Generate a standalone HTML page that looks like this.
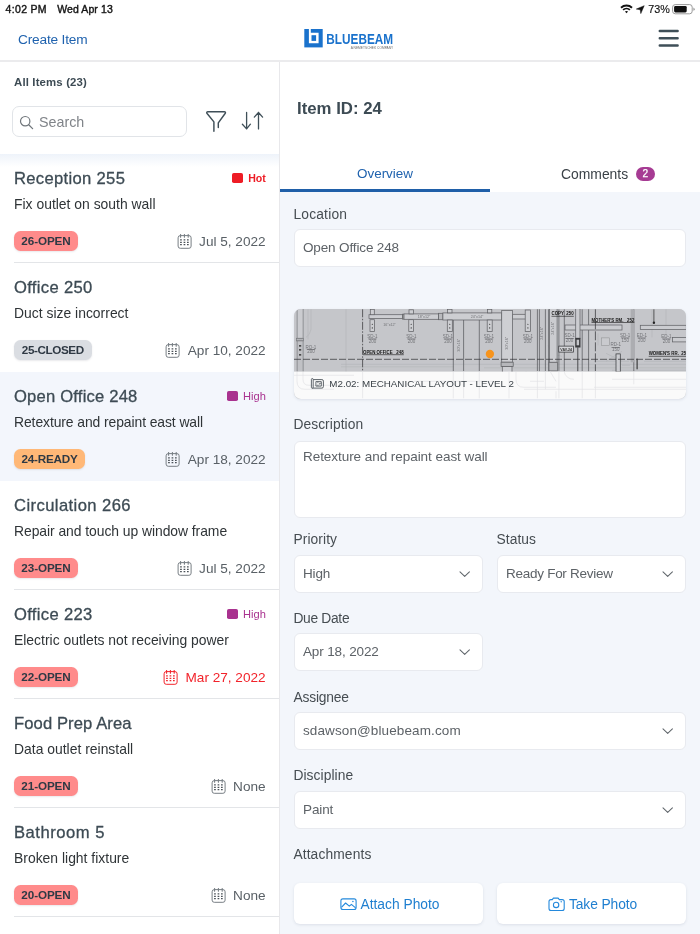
<!DOCTYPE html>
<html lang="en">
<head>
<meta charset="utf-8">
<title>Bluebeam Punch Items</title>
<style>
*{box-sizing:border-box;margin:0;padding:0}
html,body{width:700px;height:934px;overflow:hidden;background:#fff}
body{font-family:"Liberation Sans",sans-serif;color:#3b474f;position:relative;-webkit-font-smoothing:antialiased}
.abs{position:absolute;white-space:nowrap}
#app{position:absolute;left:0;top:0;width:700px;height:934px;overflow:hidden;background:#fff;will-change:transform}

/* status bar */
.sb{font-size:10.5px;color:#151515;line-height:12px;top:2.6px;-webkit-text-stroke:.4px #151515}

/* header */
#hdr{position:absolute;left:0;top:0;width:700px;height:62px;border-bottom:2px solid #ebebed;background:#fff}
.create{left:18px;top:31px;font-size:13.7px;line-height:17px;color:#1f62ae;letter-spacing:-.19px}

/* left panel */
#left{position:absolute;left:0;top:62px;width:280px;height:872px;border-right:1.5px solid #e8e8eb;background:#fff}
.allitems{left:14px;top:75.4px;font-size:11.4px;font-weight:bold;color:#3d4b54;line-height:14px;letter-spacing:.15px}
.search{left:12px;top:106px;width:175px;height:31px;border:1px solid #e1e4e8;border-radius:7px;background:#fff}
.search span{position:absolute;left:26px;top:5.5px;font-size:14.3px;line-height:18px;color:#808489}
#list{position:absolute;left:0;top:154px;width:279px;height:780px}
.shadowtop{position:absolute;left:0;top:154px;width:278.5px;height:13px;background:linear-gradient(#eef3fa,#fff)}
.it{position:absolute;left:0;width:279px;height:109px}
.it.sel{background:#f3f6fc}
.it .t{position:absolute;left:14px;top:14px;font-size:16.6px;line-height:22px;color:#3d4b54;white-space:nowrap;-webkit-text-stroke:.3px #3d4b54;letter-spacing:.32px}
.it .s{position:absolute;left:14px;top:40.5px;font-size:13.9px;line-height:18px;color:#2f3437;white-space:nowrap;letter-spacing:.01px}
.it .b{position:absolute;left:14px;top:76.6px;height:20.4px;width:64px;text-align:center;border-radius:6.5px;font-size:11.7px;font-weight:bold;line-height:20.4px;color:#2f3944;box-shadow:0 1px 2px rgba(40,40,60,.10);background:#ff8b8b;white-space:nowrap;letter-spacing:-.1px}
.it .b.closed{background:#dadde2;color:#2f3944;width:77.6px;letter-spacing:-.4px}
.it .b.ready{background:#ffb877;color:#2f3944;width:71px;letter-spacing:-.2px}
.it .d{position:absolute;right:13.4px;top:78.8px;font-size:13.6px;line-height:18px;color:#596066;white-space:nowrap}
.it .d.red{color:#f2232b}
.it .d svg{position:absolute;left:-22.3px;top:1.2px;color:#777e84}.it .d.red svg{color:#f2232b;--dot:#f2232b}
.it .p{position:absolute;right:13.2px;top:17px;font-size:11.1px;line-height:14px;white-space:nowrap}
.it .p i{position:absolute;left:-15.8px;top:1.7px;width:10.8px;height:10.8px;border-radius:1.8px}
.it .p.hot{color:#ee1c25;font-weight:bold;font-size:10.6px}.it .p.hot i{background:#ee1c25}
.it .p.high{color:#a9328f}.it .p.high i{background:#a9328f}
.it .ln{position:absolute;left:14px;right:0;bottom:0;height:1px;background:#e3e5e8}

/* right panel */
#right{position:absolute;left:280px;top:62px;width:420px;height:872px;background:#fff}
#form{position:absolute;left:280px;top:192px;width:420px;height:742px;background:#f3f6fb}
.itemid{left:297px;top:98px;font-size:16.8px;font-weight:bold;line-height:22px;color:#3d4b54}
.tab{font-size:14.5px;line-height:18px;top:165px}
.lbl{font-size:13.8px;line-height:18px;color:#464d52;left:293.4px}
.inp{position:absolute;background:#fff;border:1px solid #e8eaef;border-radius:6px;height:38px;font-size:13.5px;letter-spacing:-.05px;line-height:36px;padding-left:8px;color:#5d6267;white-space:nowrap}
.chev{position:absolute;right:11px;top:14px}
.btn{position:absolute;top:883px;width:189px;height:41px;background:#fff;border-radius:6px;box-shadow:0 1px 3px rgba(60,80,110,.13);font-size:13.8px;line-height:41px;color:#1f7fd0;white-space:nowrap}
</style>
</head>
<body>
<div id="app">

<!-- HEADER -->
<div id="hdr"></div>
<div class="abs sb" style="left:5.6px;letter-spacing:.32px">4:02 PM</div>
<div class="abs sb" style="left:57.2px;letter-spacing:.1px">Wed Apr 13</div>
<div class="abs sb" style="left:648.3px;font-size:10.8px;-webkit-text-stroke:.15px #151515">73%</div>
<div class="abs create">Create Item</div>
<!-- wifi -->
<svg class="abs" style="left:620px;top:4px" width="13" height="10" viewBox="0 0 13 10">
 <path d="M1 3.7 A7.9 7.9 0 0 1 12 3.7" fill="none" stroke="#111" stroke-width="1.9" stroke-linecap="butt"/>
 <path d="M3.1 5.9 A4.9 4.9 0 0 1 9.9 5.9" fill="none" stroke="#111" stroke-width="1.75"/>
 <path d="M4.9 7.6 A2.4 2.4 0 0 1 8.1 7.6 L6.5 9.3 Z" fill="#111"/>
</svg>
<!-- location arrow -->
<svg class="abs" style="left:636px;top:5px" width="9" height="9" viewBox="0 0 9 9"><path d="M8.2 0.7 L0.3 4.1 L4.2 4.7 L4.8 8.6 Z" fill="#111" stroke="#111" stroke-width=".5" stroke-linejoin="round"/></svg>
<!-- battery -->
<svg class="abs" style="left:672px;top:4px" width="24" height="11" viewBox="0 0 24 11">
 <rect x="0.6" y="0.6" width="19.6" height="9.2" rx="2.6" fill="none" stroke="#9a9a9a" stroke-width="1"/>
 <rect x="2.1" y="2" width="12.6" height="6.4" rx="1.3" fill="#111"/>
 <path d="M21.4 3.6 Q22.7 4.2 22.7 5.2 Q22.7 6.2 21.4 6.8 Z" fill="#9a9a9a"/>
</svg>
<!-- hamburger -->
<svg class="abs" style="left:657px;top:29px" width="24" height="19" viewBox="0 0 24 19"><path d="M2.8 2h17.8M2.8 9.3h17.8M2.8 16.6h17.8" stroke="#3f4f58" stroke-width="2.5" stroke-linecap="round"/></svg>
<!-- logo -->
<svg class="abs" style="left:300px;top:24px" width="100" height="30" viewBox="0 0 100 30">
 <rect x="4.3" y="5" width="18.4" height="18.4" fill="#1a72cc"/>
 <path d="M8.9 5 H10.8 V8.7 H18.6 V19.3 H8.9 Z" fill="#fff"/>
 <rect x="11.5" y="11.2" width="4.6" height="5.7" fill="#1a72cc"/>
 <text x="26.3" y="19.7" font-family="Liberation Sans, sans-serif" font-weight="bold" font-size="14.8" fill="#1a72cc" textLength="66.8" lengthAdjust="spacingAndGlyphs">BLUEBEAM</text>
 <text x="50.7" y="25.3" font-family="Liberation Sans, sans-serif" font-size="2.9" fill="#6c6c6c" textLength="42.6" lengthAdjust="spacingAndGlyphs">A NEMETSCHEK COMPANY</text>
</svg>

<!-- LEFT -->
<div id="left"></div>
<div class="abs allitems">All Items (23)</div>
<div class="abs search"><span>Search</span>
 <svg style="position:absolute;left:6px;top:8px" width="16" height="16" viewBox="0 0 16 16"><circle cx="6.2" cy="6.2" r="4.7" fill="none" stroke="#70767b" stroke-width="1.2"/><path d="M9.7 9.7L13.6 13.6" stroke="#70767b" stroke-width="1.3" stroke-linecap="round"/></svg>
</div>
<!-- filter -->
<svg class="abs" style="left:204px;top:109px" width="26" height="26" viewBox="0 0 26 26"><path d="M9.9 22.2V12.9L3.1 4.5Q2 2.8 4 2.8H20.2Q22.2 2.8 21.1 4.5L14.3 13.9V18.6" fill="none" stroke="#3f4f58" stroke-width="1.45" stroke-linecap="round" stroke-linejoin="round"/></svg>
<!-- sort -->
<svg class="abs" style="left:240px;top:109px" width="26" height="26" viewBox="0 0 26 26"><path d="M6.6 3.5V19.9M2.4 15.2L6.6 19.9L10.4 15.2M18.5 19.9V3.5M14.3 8.1L18.5 3.5L22.6 8.1" fill="none" stroke="#3f4f58" stroke-width="1.3" stroke-linecap="round" stroke-linejoin="round"/></svg>
<div class="shadowtop"></div>
<svg width="0" height="0" style="position:absolute"><defs>
<g id="cal" fill="none" stroke="currentColor" stroke-width="1">
<rect x="1.1" y="1.6" width="13" height="12.7" rx="2.2"/>
<path d="M3.6 0.5v2.7M7.4 0.5v2.7M11.2 0.5v2.7" stroke-width="1.1" stroke-linecap="round"/>
<path d="M3.1 5.9h1.7M6.6 5.9h1.7M10 5.9h1.7M3.1 8.4h1.7M6.6 8.4h1.7M10 8.4h1.7M3.1 10.6h1.7M6.6 10.6h1.7M10 10.6h1.7" stroke-width="1.2" style="stroke:var(--dot,#4a5157)"/>
</g>
</defs></svg>
<div id="list">
 <div class="it" style="top:0">
  <div class="t">Reception 255</div><div class="p hot"><i></i>Hot</div>
  <div class="s">Fix outlet on south wall</div>
  <div class="b">26-OPEN</div>
  <div class="d"><svg width="16" height="16"><use href="#cal"/></svg>Jul 5, 2022</div>
  <div class="ln"></div>
 </div>
 <div class="it" style="top:109px">
  <div class="t">Office 250</div>
  <div class="s">Duct size incorrect</div>
  <div class="b closed">25-CLOSED</div>
  <div class="d"><svg width="16" height="16"><use href="#cal"/></svg>Apr 10, 2022</div>
 </div>
 <div class="it sel" style="top:218px">
  <div class="t" style="letter-spacing:.2px">Open Office 248</div><div class="p high"><i></i>High</div>
  <div class="s" style="letter-spacing:-.08px">Retexture and repaint east wall</div>
  <div class="b ready">24-READY</div>
  <div class="d"><svg width="16" height="16"><use href="#cal"/></svg>Apr 18, 2022</div>
 </div>
 <div class="it" style="top:327px">
  <div class="t" style="letter-spacing:.42px">Circulation 266</div>
  <div class="s" style="letter-spacing:-.05px">Repair and touch up window frame</div>
  <div class="b">23-OPEN</div>
  <div class="d"><svg width="16" height="16"><use href="#cal"/></svg>Jul 5, 2022</div>
  <div class="ln"></div>
 </div>
 <div class="it" style="top:436px">
  <div class="t">Office 223</div><div class="p high"><i></i>High</div>
  <div class="s">Electric outlets not receiving power</div>
  <div class="b">22-OPEN</div>
  <div class="d red"><svg width="16" height="16"><use href="#cal"/></svg>Mar 27, 2022</div>
  <div class="ln"></div>
 </div>
 <div class="it" style="top:545px">
  <div class="t" style="letter-spacing:.1px">Food Prep Area</div>
  <div class="s">Data outlet reinstall</div>
  <div class="b">21-OPEN</div>
  <div class="d"><svg width="16" height="16"><use href="#cal"/></svg>None</div>
  <div class="ln"></div>
 </div>
 <div class="it" style="top:654px">
  <div class="t" style="letter-spacing:.52px">Bathroom 5</div>
  <div class="s">Broken light fixture</div>
  <div class="b">20-OPEN</div>
  <div class="d"><svg width="16" height="16"><use href="#cal"/></svg>None</div>
  <div class="ln"></div>
 </div>
</div>

<!-- RIGHT -->
<div id="right"></div>
<div id="form"></div>
<div class="abs itemid">Item ID: 24</div>

<!-- tabs -->
<div class="abs tab" style="left:357px;color:#1f62ae;font-size:13.45px">Overview</div>
<div class="abs tab" style="left:561px;color:#3b4248;font-size:13.9px">Comments</div>
<div class="abs" style="left:635.7px;top:166.8px;width:19.3px;height:14.6px;border-radius:7.3px;background:#a63b93;color:#fff;font-size:10.2px;line-height:14.8px;text-align:center;-webkit-text-stroke:.25px #fff">2</div>
<div class="abs" style="left:280px;top:189px;width:210px;height:3px;background:#1f5fa8"></div>

<!-- form -->
<div class="abs lbl" style="top:206px;letter-spacing:0.2px">Location</div>
<div class="inp" style="left:294px;top:229px;width:392px;letter-spacing:-.14px">Open Office 248</div>

<div id="plan" class="abs" style="left:294px;top:309px;width:392px;height:89.5px;border-radius:7px;overflow:hidden;background:#d3d4d6;box-shadow:0 1px 3px rgba(60,80,110,.13)">
<svg class="abs" style="left:0;top:0" width="392" height="90" viewBox="0 -0.3 392 90" font-family="Liberation Sans, sans-serif">
 <rect y="-1" width="392" height="91" fill="#c5c6ca"/>
 <!-- light background linework -->
 <g stroke="#b2b3b7" stroke-width=".6" fill="none">
  <path d="M47 55H392M47 57.5H160M190 58.5H392M0 66H392M0 74H200M230 80H392M14 0V30M17 0V20Q16 26 12 28M52 0V89M318 61H392M300 78H392"/>
  <path d="M22 62V72Q22 82 32 82H60M215 62V89M222 62V89M232 62V70Q232 78 240 78H262M250 62V89M270 62V76M358 0V28M372 0V28M328 56H336M300 52H335M350 52H392"/>
  <path d="M254 36Q258 46 268 47M312 44L328 52M312 52L328 42M304 24V36"/>
 </g>
 <!-- left vertical riser -->
 <g stroke="#77787c" stroke-width=".7" fill="#cbccd0">
  <rect x="3.1" y="-1" width="6" height="30"/>
  <rect x="2.6" y="29" width="7" height="2.6" fill="#b4b5b9"/>
  <rect x="3.1" y="31.6" width="6" height="60" fill="#c0c1c5"/>
 </g>
 <path d="M5 36.5h2.2M5 40.5h2.2M5 45.5h2.2" stroke="#222" stroke-width="1.2"/>
 <!-- main horizontal supply duct, left run -->
 <g stroke="#626367" stroke-width=".75" fill="#cdced2">
  <rect x="75" y="5.4" width="33.5" height="3.9"/>
  <rect x="108.5" y="4.9" width="1.6" height="4.9" fill="#bbb"/>
  <rect x="110" y="4.6" width="34.6" height="5.4"/>
  <rect x="144.6" y="4" width="4.3" height="6.4" fill="#b9babe"/>
  <rect x="148.9" y="3.6" width="58.8" height="7.1"/>
  <rect x="218.6" y="5" width="14" height="4.7"/>
  <!-- big vertical 30x16 duct -->
  <rect x="207.7" y="1.1" width="10.9" height="51.8" fill="#cecfd3"/>
  <rect x="207.1" y="52.9" width="12.1" height="4.4" fill="#b6b7bb"/>
  <rect x="208.3" y="57.3" width="9.7" height="34" fill="#cdced2"/>
  <!-- diffuser stubs -->
  <rect x="76" y="10.4" width="4.6" height="11.7"/>
  <rect x="114.8" y="10.4" width="4.8" height="11.7"/>
  <rect x="153.3" y="10.7" width="5" height="11.4"/>
  <rect x="193.2" y="10.7" width="5" height="11.4"/>
  <rect x="231.2" y="0.7" width="5.4" height="21.4"/>
  <!-- small top connectors -->
  <rect x="76.3" y="0" width="4" height="5.4"/>
  <rect x="115" y="0.5" width="4.4" height="4.1"/>
  <rect x="153.6" y="0" width="4.4" height="3.6"/>
  <rect x="193.4" y="0" width="4.4" height="3.6"/>
 </g>
 <!-- dots inside diffusers -->
 <g fill="#222">
  <circle cx="78.3" cy="15" r=".55"/><circle cx="78.3" cy="18.6" r=".55"/>
  <circle cx="117.2" cy="15" r=".55"/><circle cx="117.2" cy="18.6" r=".55"/>
  <circle cx="155.8" cy="15" r=".55"/><circle cx="155.8" cy="18.6" r=".55"/>
  <circle cx="195.7" cy="15" r=".55"/><circle cx="195.7" cy="18.6" r=".55"/>
  <circle cx="233.9" cy="15" r=".55"/><circle cx="233.9" cy="18.6" r=".55"/>
 </g>
 <!-- vertical structural / duct lines -->
 <g stroke="#5a5b5f" stroke-width=".75" fill="none">
  <path d="M159.3 10.7V62M169.6 10.7V62M185.3 10.7V62"/>
  <path d="M243.4 0V62M245.4 0V62M251.4 0V62M254.6 0V62M264.9 0V62M270.3 0V62M288.2 0V62M294.6 0V62M339.8 0V62"/>
 </g>
 
 <!-- 24x16 vertical duct -->
 <g stroke="#626367" stroke-width=".75" fill="#cbccd0">
  <rect x="255.4" y="-1" width="7.7" height="54"/>
  <rect x="255" y="53" width="8.5" height="8.6" fill="#b9babe"/>
  <!-- copy room cross duct -->
  <rect x="271" y="15.7" width="57" height="5"/>
  <rect x="281.7" y="-1" width="4.3" height="30"/>
  <rect x="346.3" y="16" width="46" height="4.3"/>
  <rect x="378.6" y="28.3" width="14" height="4.3"/>
  <rect x="307.4" y="28.6" width="7.9" height="7.8" stroke="#8a8b8e" stroke-width=".5" fill="#c9cace"/>
  <rect x="322" y="44.6" width="4.3" height="18" stroke="#3c3d40"/>
 </g>
 <rect x="336.7" y="0" width="3.3" height="53" fill="#acadb1"/>
 <!-- valve + pipe -->
 <rect x="281.2" y="28.6" width="5.3" height="9.6" fill="#3a3b3e"/>
 <rect x="282.6" y="30.4" width="2.5" height="5.6" fill="#c5c6ca"/>
 <path d="M283.8 38V62" stroke="#3c3d40" stroke-width=".9"/>
 <!-- VAV box -->
 <rect x="264.8" y="36.8" width="14.8" height="6" fill="#d4d5d9" stroke="#2c2d30" stroke-width=".7"/>
 <text x="266.3" y="41.5" font-size="3.9" font-weight="bold" fill="#333" textLength="11.8" lengthAdjust="spacingAndGlyphs">VAV-24</text>
 <!-- line w/ dot -->
 <path d="M359.9 0V13" stroke="#222" stroke-width=".7"/><circle cx="359.9" cy="13.4" r="1.2" fill="#222"/>
 <path d="M343.1 49.3V60" stroke="#222" stroke-width="1"/>
 <!-- dashed axis lines -->
 <g stroke="#2c2d30" stroke-width=".7" fill="none">
  <path d="M0 50H392" stroke-dasharray="7 2"/>
  <path d="M68.6 0V62" stroke-dasharray="8 1.5 1.5 1.5"/>
  <path d="M301.4 0V62" stroke-dasharray="9 2"/>
 </g>
 <!-- tag labels -->
 <g font-size="4.5" fill="#737478" text-anchor="middle">
  <text x="17" y="39.3">RO-1</text><text x="17" y="43.9">200</text>
  <text x="78.4" y="28.6">SD-1</text><text x="78.4" y="33.6">200</text>
  <text x="117.4" y="28.6">SD-1</text><text x="117.4" y="33.6">200</text>
  <text x="154" y="28.6">SD-1</text><text x="154" y="33.6">200</text>
  <text x="195" y="28.6">SD-1</text><text x="195" y="33.6">200</text>
  <text x="233.8" y="28.6">SD-1</text><text x="233.8" y="33.6">200</text>
  <text x="275.6" y="28.2">SD-1</text><text x="275.6" y="33.2">200</text>
  <text x="321.7" y="37.2">RD-1</text><text x="321.7" y="42.2">150</text>
  <text x="331.2" y="27.6">SD-1</text><text x="331.2" y="32.6">150</text>
  <text x="347.8" y="27.6">ED-1</text><text x="347.8" y="32.6">200</text>
  <text x="372.4" y="28.6">ED-1</text><text x="372.4" y="33.6">200</text>
  <text x="95.6" y="16.4" font-size="3.7">16"x12"</text>
  <text x="130" y="8.6" font-size="3.7">18"x12"</text>
  <text x="183" y="8.6" font-size="3.7">24"x14"</text>
  <text font-size="3.7" transform="translate(166.2 36) rotate(-90)">30"x16"</text>
  <text font-size="3.7" transform="translate(214.4 34) rotate(-90)">30"x16"</text>
  <text font-size="3.7" transform="translate(248.8 24) rotate(-90)">24"x16"</text>
  <text font-size="3.7" transform="translate(260.4 19) rotate(-90)">24"x16"</text>
 </g>
 <g stroke="#5c5d61" stroke-width=".6">
  <path d="M12.8 40.2h8.4M74.2 29.6h8.4M113.2 29.6h8.4M149.8 29.6h8.4M190.8 29.6h8.4M229.6 29.6h8.4M271.4 29.2h8.4M317.5 38.2h8.4M327 28.6h8.4M343.6 28.6h8.4M368.2 29.6h8.4"/>
 </g>
 <!-- room names -->
 <g font-size="4.5" font-weight="bold" fill="#151515">
  <text x="69" y="44.5" textLength="40.6" lengthAdjust="spacingAndGlyphs" xml:space="preserve">OPEN OFFICE   248</text>
  <text x="257.5" y="6.2" textLength="22.2" lengthAdjust="spacingAndGlyphs" xml:space="preserve">COPY  250</text>
  <text x="297.5" y="12.4" textLength="42.8" lengthAdjust="spacingAndGlyphs" xml:space="preserve">MOTHER'S RM.   252</text>
  <text x="354.7" y="46.2" textLength="40" lengthAdjust="spacingAndGlyphs" xml:space="preserve">WOMEN'S RR.  253</text>
 </g>
 <path d="M69 45.4H109.8M257.5 7H279.8M297.5 13.2H340.4M354.7 47H392" stroke="#151515" stroke-width=".6"/>
 <!-- marker -->
 <circle cx="195.9" cy="44.7" r="4.15" fill="#f7941d"/>
 <!-- caption strip -->
 <rect x="0" y="62.3" width="392" height="28" fill="#fafafa"/>
 <g stroke="#e2e3e5" stroke-width=".7" fill="none">
  <path d="M68.6 62V89M159.3 62V89M169.6 62V89M185.3 62V89M243.4 62V89M251.4 62V80M264.9 62V89M288.2 62V89M339.8 62V75M301.4 62V89M3 62V72Q3 80 11 80H40M9 62V70Q9 76 15 76H40"/>
  <path d="M0 66H60M120 72H200M230 80H392M300 78H392M318 70H392M215 62V89M222 62V70Q222 78 230 78H262M236 72H250M256 62L262 72M270 62Q272 70 280 70M262 82V89"/>
 </g>
</svg>

 <svg class="abs" style="left:16px;top:68px" width="16" height="14" viewBox="0 0 16 14"><g fill="none" stroke="#4a5158" stroke-linejoin="round"><rect x="1.4" y="1.5" width="1.8" height="9.8" rx=".9" stroke-width=".85"/><path d="M3.2 2.6H11.9Q13.4 2.6 13.4 4.1V9.6Q13.4 11.1 11.9 11.1H2.4" stroke-width=".9"/><rect x="5.9" y="4.6" width="5.4" height="4.5" stroke-width=".85"/><path d="M7.9 4.6V6.2M7.9 7.6V9.1M9.4 6.3H11.3M9.4 6.3V7.6" stroke-width=".7"/></g></svg>
 <div class="abs" style="left:35.3px;top:68.6px;font-size:9.8px;line-height:12px;color:#3b4248">M2.02: MECHANICAL LAYOUT - LEVEL 2</div>
</div>

<div class="abs lbl" style="top:416px;letter-spacing:0.07px">Description</div>
<div class="inp" style="left:294px;top:441px;width:392px;height:77px;line-height:18px;padding-top:6px">Retexture and repaint east wall</div>

<div class="abs lbl" style="top:531px;letter-spacing:0.1px">Priority</div>
<div class="abs lbl" style="top:531px;left:496.4px;letter-spacing:0.1px">Status</div>
<div class="inp" style="left:294px;top:555px;width:189px;letter-spacing:-.15px">High<svg class="chev" width="14" height="9"><path d="M3 1.9l4.7 4.5 4.7-4.5" fill="none" stroke="#5f656a" stroke-width="1.05" stroke-linecap="round" stroke-linejoin="round"/></svg></div>
<div class="inp" style="left:497px;top:555px;width:189px;letter-spacing:-.27px">Ready For Review<svg class="chev" width="14" height="9"><path d="M3 1.9l4.7 4.5 4.7-4.5" fill="none" stroke="#5f656a" stroke-width="1.05" stroke-linecap="round" stroke-linejoin="round"/></svg></div>

<div class="abs lbl" style="top:610px;letter-spacing:-0.3px">Due Date</div>
<div class="inp" style="left:294px;top:633px;width:189px;letter-spacing:-.13px">Apr 18, 2022<svg class="chev" width="14" height="9"><path d="M3 1.9l4.7 4.5 4.7-4.5" fill="none" stroke="#5f656a" stroke-width="1.05" stroke-linecap="round" stroke-linejoin="round"/></svg></div>

<div class="abs lbl" style="top:689px;letter-spacing:-0.17px">Assignee</div>
<div class="inp" style="left:294px;top:712px;width:392px;letter-spacing:.11px">sdawson@bluebeam.com<svg class="chev" width="14" height="9"><path d="M3 1.9l4.7 4.5 4.7-4.5" fill="none" stroke="#5f656a" stroke-width="1.05" stroke-linecap="round" stroke-linejoin="round"/></svg></div>

<div class="abs lbl" style="top:767px;letter-spacing:0.08px">Discipline</div>
<div class="inp" style="left:294px;top:791px;width:392px;letter-spacing:-.1px">Paint<svg class="chev" width="14" height="9"><path d="M3 1.9l4.7 4.5 4.7-4.5" fill="none" stroke="#5f656a" stroke-width="1.05" stroke-linecap="round" stroke-linejoin="round"/></svg></div>

<div class="abs lbl" style="top:846px;letter-spacing:0.12px">Attachments</div>
<div class="btn" style="left:294px">
 <svg style="position:absolute;left:45.5px;top:14.5px" width="18" height="13" viewBox="0 0 18 13"><rect x="0.9" y="0.9" width="15.2" height="10.6" rx="2" fill="none" stroke="#2489dc" stroke-width="1.1"/><path d="M1.4 9.4L5.6 5L9.3 8.2L11.4 6.4L15.6 9.9" fill="none" stroke="#2489dc" stroke-width="1.1" stroke-linejoin="round"/><circle cx="12.9" cy="3.5" r=".8" fill="#2489dc"/></svg>
 <span style="position:absolute;left:66.5px;top:.8px">Attach Photo</span></div>
<div class="btn" style="left:497px">
 <svg style="position:absolute;left:51px;top:13.5px" width="18" height="15" viewBox="0 0 18 15"><path d="M1 4.6Q1 2.6 3 2.6H4.3L5.4 1.1H10.2L11.3 2.6H14.2Q16.2 2.6 16.2 4.6V11.5Q16.2 13.5 14.2 13.5H3Q1 13.5 1 11.5Z" fill="none" stroke="#2489dc" stroke-width="1.1" stroke-linejoin="round"/><circle cx="8.1" cy="7.9" r="2.7" fill="none" stroke="#2489dc" stroke-width="1.1"/><circle cx="13.2" cy="4.8" r=".7" fill="#2489dc"/></svg>
 <span style="position:absolute;left:72px;top:.8px;letter-spacing:-.1px">Take Photo</span></div>

</div>
</body>
</html>
